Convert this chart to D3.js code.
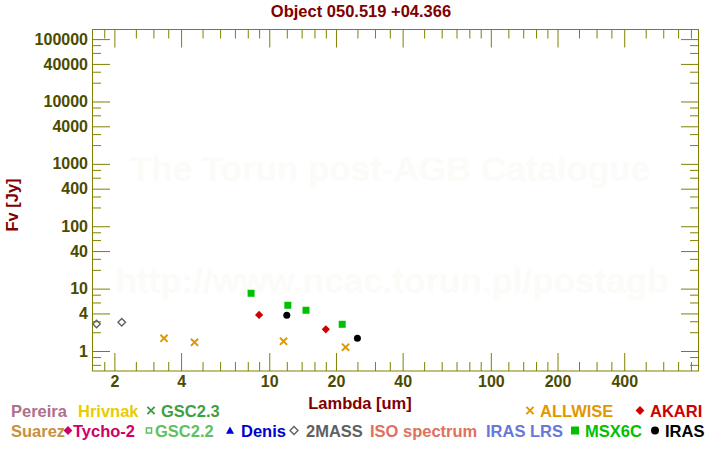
<!DOCTYPE html>
<html>
<head>
<meta charset="utf-8">
<script src="https://cdn.jsdelivr.net/npm/d3@7"></script>
<style>
html,body{margin:0;padding:0;background:#fff;}
svg{display:block;font-family:"Liberation Sans",Arial,sans-serif;font-weight:bold;}
</style>
</head>
<body>
<svg id="chart" width="720" height="450"></svg>
<script>
// ---- data ----
const title = "Object 050.519 +04.366";
const twomassLambda = [1.662, 2.159];
const twomassFlux   = [2.71, 2.89];
const allwiseLambda = [3.35, 4.6, 11.6, 22.1];
const allwiseFlux   = [1.60, 1.38, 1.43, 1.15];
const akariLambda   = [9, 18];
const akariFlux     = [3.78, 2.23];
const msxLambda     = [8.28, 12.13, 14.65, 21.34];
const msxFlux       = [8.42, 5.41, 4.50, 2.68];
const irasLambda    = [12, 25];
const irasFlux      = [3.73, 1.60];

const xMajorTicks = [2, 4, 10, 20, 40, 100, 200, 400];
const xMinorTicks = [1.8, 2.5, 3, 3.5, 5, 6, 7, 8, 9, 12, 14, 16, 18, 25, 30, 35, 50, 60, 70, 80, 90,
                     120, 140, 160, 180, 250, 300, 350, 500, 600, 700, 800];
const yMajorTicks = [1, 4, 10, 40, 100, 400, 1000, 4000, 10000, 40000, 100000];
const yMinorTicks = [0.6, 0.8, 2, 3, 6, 8, 20, 30, 60, 80, 200, 300, 600, 800, 2000, 3000, 6000, 8000,
                     20000, 30000, 60000, 80000];
const xDomain = [1.585, 870];
const yDomain = [0.478, 142500];

// legend layout (style/position config)
const legendRow1 = [
  {name: "Pereira", color: "#b0708a", tx: 11},
  {name: "Hrivnak", color: "#e8cc00", tx: 78},
  {name: "GSC2.3", color: "#40a040", sym: "x", sx: 151, tx: 161},
  {name: "ALLWISE", color: "#e09800", sym: "x", sx: 530, tx: 540},
  {name: "AKARI", color: "#d00000", sym: "diamond", sx: 640, tx: 650}
];
const legendRow2 = [
  {name: "Suarez", color: "#c89040", tx: 11},
  {name: "Tycho-2", color: "#d00068", sym: "diamond", sx: 68, tx: 73},
  {name: "GSC2.2", color: "#60c060", sym: "osquare", sx: 149, tx: 155},
  {name: "Denis", color: "#0000d0", sym: "triangle", sx: 230, tx: 241},
  {name: "2MASS", color: "#606060", sym: "odiamond", sx: 294, tx: 306},
  {name: "ISO spectrum", color: "#e07060", tx: 370},
  {name: "IRAS LRS", color: "#6878d8", tx: 486},
  {name: "MSX6C", color: "#00c000", sym: "square", sx: 575, tx: 585},
  {name: "IRAS", color: "#000000", sym: "circle", sx: 655, tx: 665}
];

// ---- drawing ----
const svg = d3.select("#chart");
const L = 92, R = 699, T = 29.5, B = 371;
const axisColor = "#808000", tickLabelColor = "#4b4b00", labelColor = "#800000";

const x = d3.scaleLog().domain(xDomain).range([L, R]);
const y = d3.scaleLog().domain(yDomain).range([B, T]);

// watermark
svg.append("text").attr("x", 390).attr("y", 181).attr("text-anchor", "middle")
  .attr("font-size", 35).attr("fill", "#fbfbf8").text("The Torun post-AGB Catalogue");
svg.append("text").attr("x", 392).attr("y", 293).attr("text-anchor", "middle")
  .attr("font-size", 35).attr("fill", "#fbfbf8").text("http://www.ncac.torun.pl/postagb");

// title
svg.append("text").attr("x", 361).attr("y", 17).attr("text-anchor", "middle")
  .attr("font-size", 16.5).attr("fill", labelColor).text(title);

function styleAxis(g) {
  g.select(".domain").remove();
  g.selectAll(".tick line").attr("stroke", axisColor).attr("stroke-width", 1);
  g.selectAll(".tick text").attr("fill", tickLabelColor).attr("font-size", 16)
    .attr("font-family", "Liberation Sans, Arial, sans-serif").attr("font-weight", "bold");
}
const fmt = d => String(d);

// bottom
svg.append("g").attr("transform", `translate(0,${B})`)
  .call(d3.axisBottom(x).tickValues(xMajorTicks).tickSize(-18).tickPadding(5).tickFormat(fmt)).call(styleAxis);
svg.append("g").attr("transform", `translate(0,${B})`)
  .call(d3.axisBottom(x).tickValues(xMinorTicks).tickSize(-9).tickFormat("")).call(styleAxis);
// top
svg.append("g").attr("transform", `translate(0,${T})`)
  .call(d3.axisTop(x).tickValues(xMajorTicks).tickSize(-18).tickFormat("")).call(styleAxis);
svg.append("g").attr("transform", `translate(0,${T})`)
  .call(d3.axisTop(x).tickValues(xMinorTicks).tickSize(-9).tickFormat("")).call(styleAxis);
// left
svg.append("g").attr("transform", `translate(${L},0)`)
  .call(d3.axisLeft(y).tickValues(yMajorTicks).tickSize(-18).tickPadding(4).tickFormat(fmt)).call(styleAxis);
svg.append("g").attr("transform", `translate(${L},0)`)
  .call(d3.axisLeft(y).tickValues(yMinorTicks).tickSize(-9).tickFormat("")).call(styleAxis);
// right
svg.append("g").attr("transform", `translate(${R},0)`)
  .call(d3.axisRight(y).tickValues(yMajorTicks).tickSize(-18).tickFormat("")).call(styleAxis);
svg.append("g").attr("transform", `translate(${R},0)`)
  .call(d3.axisRight(y).tickValues(yMinorTicks).tickSize(-9).tickFormat("")).call(styleAxis);

// frame
svg.append("rect").attr("x", L + 0.5).attr("y", T).attr("width", R - L - 1).attr("height", B - T)
  .attr("fill", "none").attr("stroke", axisColor).attr("stroke-width", 1);

// axis labels
svg.append("text").attr("x", 360).attr("y", 409).attr("text-anchor", "middle")
  .attr("font-size", 16.5).attr("fill", labelColor).text("Lambda [um]");
svg.append("text").attr("transform", "translate(18,205) rotate(-90)").attr("text-anchor", "middle")
  .attr("font-size", 16.5).attr("fill", labelColor).text("Fv [Jy]");

// symbol helper
function drawSym(g, type, cx, cy, color, s) {
  if (type === "x") {
    const h = s * 0.45;
    g.append("path").attr("d", `M${cx-h},${cy-h}L${cx+h},${cy+h}M${cx-h},${cy+h}L${cx+h},${cy-h}`)
      .attr("stroke", color).attr("stroke-width", 2).attr("fill", "none");
  } else if (type === "diamond") {
    const h = s * 0.55;
    g.append("path").attr("d", `M${cx},${cy-h}L${cx+h},${cy}L${cx},${cy+h}L${cx-h},${cy}Z`).attr("fill", color);
  } else if (type === "odiamond") {
    const h = s * 0.5;
    g.append("path").attr("d", `M${cx},${cy-h}L${cx+h},${cy}L${cx},${cy+h}L${cx-h},${cy}Z`)
      .attr("fill", "none").attr("stroke", color).attr("stroke-width", 1.4);
  } else if (type === "square") {
    const h = s * 0.5;
    g.append("rect").attr("x", cx - h).attr("y", cy - h).attr("width", 2 * h).attr("height", 2 * h).attr("fill", color);
  } else if (type === "osquare") {
    const h = s * 0.32;
    g.append("rect").attr("x", cx - h).attr("y", cy - h).attr("width", 2 * h).attr("height", 2 * h)
      .attr("fill", "none").attr("stroke", color).attr("stroke-width", 1.5);
  } else if (type === "circle") {
    g.append("circle").attr("cx", cx).attr("cy", cy).attr("r", s * 0.5).attr("fill", color);
  } else if (type === "triangle") {
    const h = s * 0.5;
    g.append("path").attr("d", `M${cx},${cy-h}L${cx+h},${cy+h*0.8}L${cx-h},${cy+h*0.8}Z`).attr("fill", color);
  }
}

// data marks
const marks = svg.append("g");
const series = [
  {lam: allwiseLambda, flux: allwiseFlux, sym: "x", color: "#e09800", size: 8},
  {lam: msxLambda, flux: msxFlux, sym: "square", color: "#00c000", size: 7},
  {lam: akariLambda, flux: akariFlux, sym: "diamond", color: "#d00000", size: 7.5},
  {lam: irasLambda, flux: irasFlux, sym: "circle", color: "#000000", size: 7},
  {lam: twomassLambda, flux: twomassFlux, sym: "odiamond", color: "#606060", size: 7.5}
];
series.forEach(sr => {
  sr.lam.forEach((l, i) => drawSym(marks, sr.sym, x(l), y(sr.flux[i]), sr.color, sr.size));
});

// legend
const leg = svg.append("g");
function drawRow(items, cy) {
  items.forEach(it => {
    if (it.sym) drawSym(leg, it.sym, it.sx, cy, it.color, 8);
    leg.append("text").attr("x", it.tx).attr("y", cy + 6).attr("font-size", 16.5)
      .attr("fill", it.color).text(it.name);
  });
}
drawRow(legendRow1, 410.5);
drawRow(legendRow2, 430.5);
</script>
</body>
</html>
